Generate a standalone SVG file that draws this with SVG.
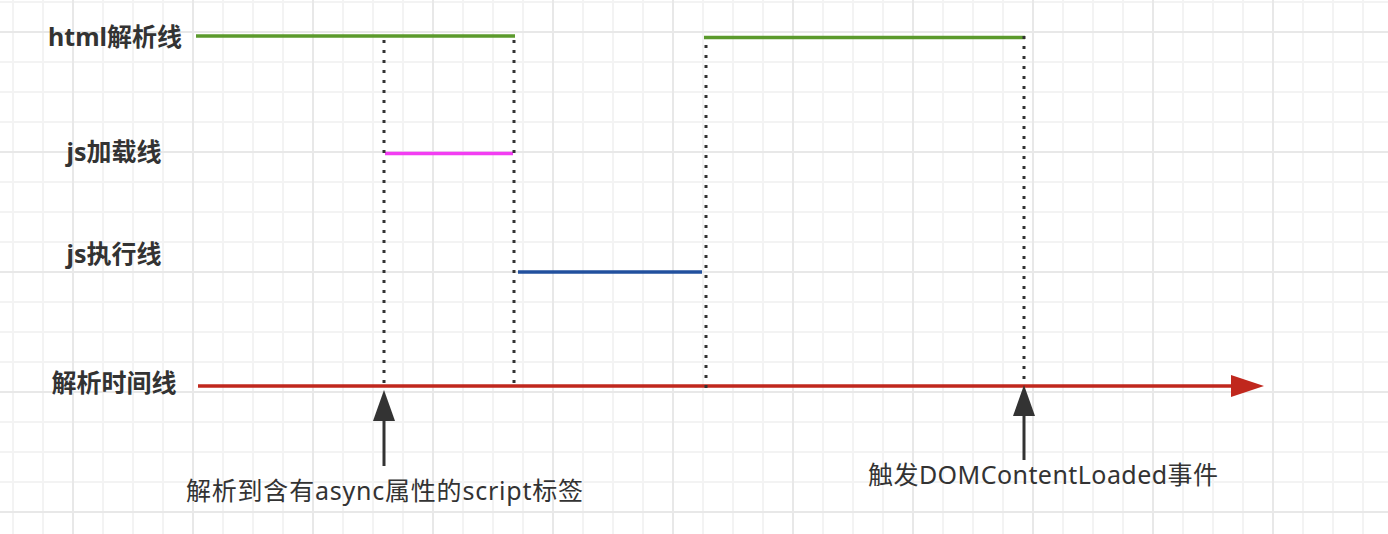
<svg xmlns="http://www.w3.org/2000/svg" width="1388" height="534" viewBox="0 0 1388 534">
<style>
.lbl{font-family:"Noto Sans","Noto Sans CJK SC",sans-serif;font-size:25px;font-weight:bold;fill:#333;text-anchor:middle}
.note{font-family:"Noto Sans","Noto Sans CJK SC",sans-serif;font-size:25px;fill:#333}
.seg{stroke-width:3.5;fill:none}
.dot{stroke:#333;stroke-width:3;stroke-dasharray:3 7;fill:none}
.up{stroke:#333;stroke-width:3;fill:none}
</style>
<defs>
<pattern id="minor" patternUnits="userSpaceOnUse" x="-2" y="-13" width="30" height="30">
<path d="M15 0V30M0 15H30" stroke="#f3f3f3" stroke-width="2" fill="none"/>
</pattern>
<pattern id="major" patternUnits="userSpaceOnUse" x="13" y="-28" width="120" height="120">
<path d="M60 0V120M0 60H120" stroke="#e8e8e8" stroke-width="2" fill="none"/>
</pattern>
</defs>
<rect width="1388" height="534" fill="#ffffff"/>
<rect width="1388" height="534" fill="url(#minor)"/>
<rect width="1388" height="534" fill="url(#major)"/>

<g id="label-html"><text class="lbl" x="115" y="46">html解析线</text></g>
<g id="label-jsload"><text class="lbl" x="114" y="161">js加载线</text></g>
<g id="label-jsexec"><text class="lbl" x="114" y="263">js执行线</text></g>
<g id="label-timeline"><text class="lbl" x="114" y="392">解析时间线</text></g>

<g id="html-parse-1"><line class="seg" x1="196" y1="36" x2="515" y2="36" stroke="#5b9a2c"/></g>
<g id="html-parse-2"><line class="seg" x1="704" y1="37.5" x2="1025" y2="37.5" stroke="#5b9a2c"/></g>
<g id="js-load"><line class="seg" x1="385" y1="153.5" x2="513" y2="153.5" stroke="#f23df2"/></g>
<g id="js-exec"><line class="seg" x1="518" y1="272" x2="702" y2="272" stroke="#22509e"/></g>
<g id="timeline">
<line class="seg" x1="198" y1="386" x2="1236" y2="386" stroke="#c0271d"/>
<polygon points="1231,375 1264,386 1231,397" fill="#c0271d"/>
</g>

<g id="note-async"><text class="note" x="186" y="500" textLength="397" lengthAdjust="spacing">解析到含有async属性的script标签</text></g>
<g id="note-dcl"><text class="note" x="868" y="484" textLength="350" lengthAdjust="spacing">触发DOMContentLoaded事件</text></g>

<g id="connectors">
<line class="dot" x1="384" y1="40" x2="384" y2="384"/>
<line class="dot" x1="514" y1="40" x2="514" y2="384"/>
<line class="dot" x1="706" y1="45" x2="706" y2="388"/>
<line class="dot" x1="1024" y1="36" x2="1024" y2="380"/>
<line class="up" x1="384" y1="466" x2="384" y2="415"/>
<polygon points="384,390 395,421 373,421" fill="#333"/>
<line class="up" x1="1024" y1="460" x2="1024" y2="410"/>
<polygon points="1024,385 1035,416 1013,416" fill="#333"/>
</g>
</svg>
